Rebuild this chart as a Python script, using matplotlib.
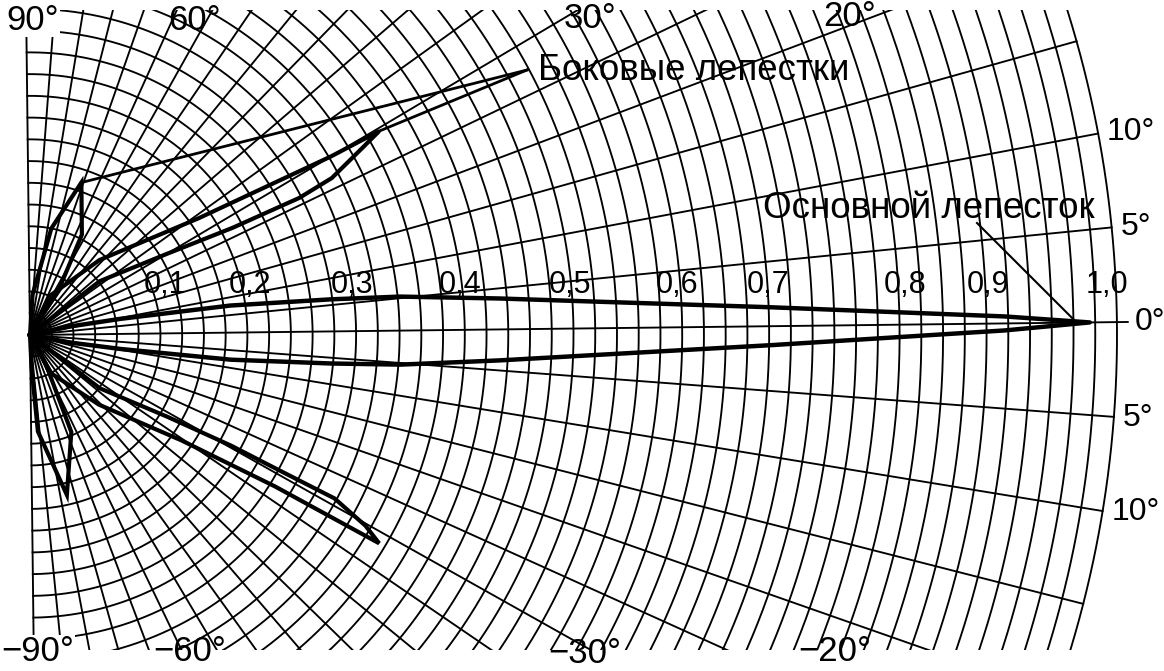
import numpy as np
import matplotlib.pyplot as plt
from matplotlib.patches import Rectangle

plt.rcParams['font.family'] = ['Liberation Sans', 'DejaVu Sans']

# --- grid of the polar chart ---
ring_step = 0.02          # relative amplitude between circles
ring_count = 50
spoke_step = 5            # degrees between radial lines
angle_labels = [90, 60, 30, 20, 10, 5, 0, -5, -10, -20, -30, -60, -90]
radius_labels = [0.1, 0.2, 0.3, 0.4, 0.5, 0.6, 0.7, 0.8, 0.9, 1.0]

# --- lobes: angle (deg) / relative amplitude ---
# main lobe, symmetric about 0 deg (from the tip back to the origin)
main_theta = [0.0, 0.41, 1.47, 2.66, 3.77, 5.25, 6.09, 7.69, 9.46, 11.3, 12.0]
main_r = [0.975, 0.897, 0.681, 0.525, 0.433, 0.342, 0.278, 0.186, 0.084, 0.038, 0.0]

# first side lobes: origin -> inner edge -> tip -> outer edge -> origin
side1_up_theta = [59.0, 37.0, 30.0, 27.2, 26.3, 26.8, 28.7, 29.6, 30.0, 34.0, 46.5, 62.0, 62.0]
side1_up_r = [0.0, 0.081, 0.146, 0.211, 0.278, 0.313, 0.351, 0.372, 0.322, 0.189, 0.094, 0.041, 0.0]
side1_dn_theta = [-59.0, -38.0, -31.5, -29.5, -29.2, -28.9, -30.3, -31.5, -32.4, -35.5, -46.0, -62.0, -62.0]
side1_dn_r = [0.0, 0.081, 0.146, 0.211, 0.257, 0.318, 0.355, 0.374, 0.265, 0.170, 0.090, 0.040, 0.0]

# second side lobes
side2_up_theta = [55.0, 57.0, 62.0, 70.7, 78.0, 85.7, 88.0]
side2_up_r = [0.0, 0.05, 0.104, 0.148, 0.10, 0.037, 0.0]
side2_dn_theta = [-60.0, -62.0, -67.6, -77.7, -86.0, -88.0, -89.0]
side2_dn_r = [0.0, 0.03, 0.097, 0.151, 0.089, 0.03, 0.0]

# the scanned original is turned slightly counter-clockwise
tilt = 0.68
scale = 1087.0            # pixels per unit radius
ox, oy = 30, 335          # origin in pixels


def to_xy(theta_deg, r):
    t = np.radians(np.asarray(theta_deg, dtype=float) + tilt)
    r = np.asarray(r, dtype=float)
    return r * np.cos(t), r * np.sin(t)


def px(x, y):
    # picture pixels -> data units, for placing annotations
    return (x - ox) / scale, (oy - y) / scale


fig = plt.figure(figsize=(11.64, 6.71), dpi=100)
ax = fig.add_axes([0, 0, 1, 1])
ax.set_xlim(-ox / scale, (1164 - ox) / scale)
ax.set_ylim(-(671 - oy) / scale, oy / scale)
ax.axis('off')

cx0, cy0 = px(-20, 650)
cx1, cy1 = px(1180, 10)
clip = Rectangle((cx0, cy0), cx1 - cx0, cy1 - cy0, transform=ax.transData,
                 facecolor='none', edgecolor='none')
ax.add_patch(clip)

# circles
t = np.linspace(-90, 90, 700)
for k in range(1, ring_count + 1):
    x, y = to_xy(t, np.full_like(t, k * ring_step))
    ln, = ax.plot(x, y, color='black', lw=1.35)
    ln.set_clip_path(clip)

# radial lines
for a in range(-90, 91, spoke_step):
    r_end = ring_count * ring_step + (0.01 if a == 0 else 0.0)
    x, y = to_xy([a, a], [0, r_end])
    ln, = ax.plot(x, y, color='black', lw=1.35)
    ln.set_clip_path(clip)

# lobes
main_full_theta = [-v for v in main_theta[::-1]] + main_theta[1:]
main_full_r = main_r[::-1] + main_r[1:]
x, y = to_xy(main_full_theta, main_full_r)
ax.plot(x, y, color='black', lw=3.2, solid_joinstyle='round')

for th, rr in [(side1_up_theta, side1_up_r), (side1_dn_theta, side1_dn_r),
               (side2_up_theta, side2_up_r), (side2_dn_theta, side2_dn_r)]:
    x, y = to_xy(th, rr)
    ax.plot(x, y, color='black', lw=3.0, solid_joinstyle='miter')

# angle labels
edge_label_px = {90: (33, 4), 60: (195, 4), 30: (590, 2), 20: (850, 0),
                 -90: (38, 668), -60: (190, 668), -30: (585, 670), -20: (835, 668)}
for a in angle_labels:
    if a in edge_label_px:
        xl, yl = px(*edge_label_px[a])
        txt = f'{a}°' if a > 0 else f'\u2212{abs(a)}°'
        kw = dict(facecolor='white', edgecolor='none', pad=0.3) if abs(a) == 90 else None
        ax.text(xl, yl, txt, fontsize=25, ha='center',
                va='top' if a > 0 else 'bottom', bbox=kw)
    else:
        rr = 1.0 + (0.016 if a == 0 else 0.008)
        x, y = to_xy(a, rr)
        ax.text(x, y, f'{abs(a)}°', fontsize=23, ha='left', va='center')

# radius labels, as placed in the original
radius_label_px = [165, 250, 352, 460, 570, 677, 768, 905, 988, 1107]
for v, xp in zip(radius_labels, radius_label_px):
    xl, yl = px(xp, 293)
    ax.text(xl, yl, f'{v:.1f}'.replace('.', ','), fontsize=22,
            ha='center', va='baseline')

# callouts
s1x, s1y = to_xy(side1_up_theta[int(np.argmax(side1_up_r))], max(side1_up_r))
s2x, s2y = to_xy(side2_up_theta[int(np.argmax(side2_up_r))], max(side2_up_r))
bx, by = px(527, 70)
ax.plot([bx, s1x], [by, s1y], color='black', lw=2.0)
ax.plot([bx, s2x], [by, s2y], color='black', lw=2.0)
tx, ty = px(538, 70)
ax.text(tx, ty, 'Боковые лепестки', fontsize=26.5, ha='left', va='center')

mx, my = px(977, 223)
ex, ey = to_xy(0, max(main_r) - 0.012)
ax.plot([mx, ex], [my, ey], color='black', lw=1.5)
tx, ty = px(763, 208)
ax.text(tx, ty, 'Основной лепесток', fontsize=26.5, ha='left', va='center')

fig.savefig('out.png', dpi=100, facecolor='white')
